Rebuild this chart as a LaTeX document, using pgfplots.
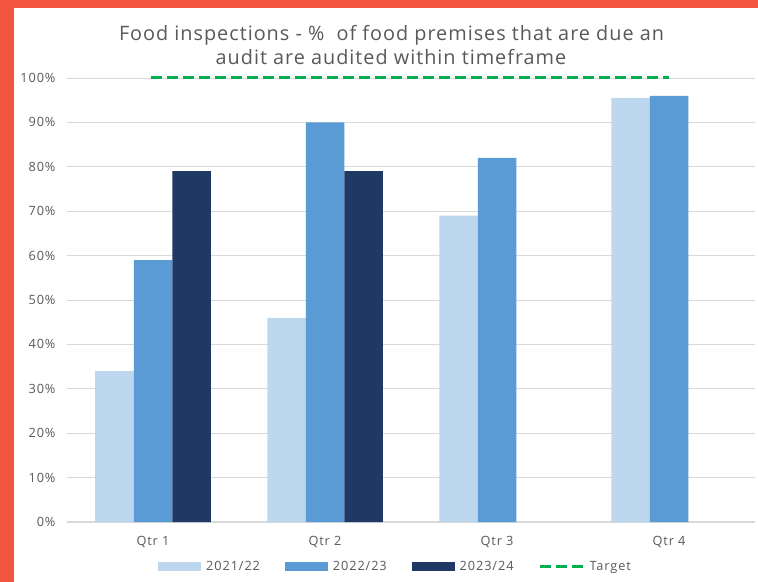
\documentclass[border=0pt]{standalone}
\usepackage{pgfplots}
\pgfplotsset{compat=1.18}
\usepackage{fontspec}
\setmainfont{Open Sans}
\newfontfamily\tickfont[LetterSpace=7]{Open Sans}
\newfontfamily\titlefont[LetterSpace=5]{Open Sans}
\definecolor{cA}{HTML}{BDD7EE}
\definecolor{cB}{HTML}{5B9BD5}
\definecolor{cC}{HTML}{1F3864}
\definecolor{tgt}{HTML}{00B050}
\definecolor{txt}{HTML}{595959}
\definecolor{gridc}{HTML}{D9D9D9}
\definecolor{frame}{HTML}{F25540}
\begin{document}
\begin{tikzpicture}
\useasboundingbox (-67bp,-60bp) rectangle (691bp,522bp);
\fill[white] (-67bp,-60bp) rectangle (691bp,522bp);
\fill[frame] (-67bp,-60bp) rectangle (-53bp,522bp);
\fill[frame] (-67bp,514bp) rectangle (691bp,522bp);
\node[text=txt, font=\titlefont\fontsize{19.9}{23.5}\selectfont, anchor=base] at (324.5bp,481bp)
  {Food inspections - \%\ \ of food premises that are due an};
\node[text=txt, font=\titlefont\fontsize{19.9}{23.5}\selectfont, anchor=base] at (324bp,457bp)
  {audit are audited within timeframe};
\begin{axis}[
  at={(0bp,0bp)}, anchor=south west,
  scale only axis, width=688bp, height=444bp,
  xmin=-0.5, xmax=3.5, ymin=0, ymax=100,
  xtick={0,1,2,3}, xticklabels={Qtr 1,Qtr 2,Qtr 3,Qtr 4},
  ytick={0,10,...,100},
  yticklabel={\pgfmathprintnumber{\tick}\%},
  /pgf/number format/assume math mode=true,
  ymajorgrids, grid style={draw=gridc, line width=0.9bp},
  major tick length=0pt,
  axis lines=left,
  y axis line style={draw=none},
  x axis line style={draw=gridc, line width=1.5bp, -},
  tick label style={text=txt, font=\tickfont\fontsize{12.8}{14}\selectfont},
  yticklabel style={xshift=-8bp},
  xticklabel style={yshift=-11bp},
  legend style={at={(0.4775,-0.1)}, anchor=center, draw=none, fill=none,
    legend columns=4, font=\tickfont\fontsize{12.8}{14}\selectfont, text=txt,
    /tikz/every even column/.append style={column sep=23bp}},
  clip=false,
]
\addplot[ybar, bar width=38.5bp, bar shift=-38.5bp, fill=cA, draw=none,
  legend image code/.code={\fill[cA] (0bp,-4.5bp) rectangle (43bp,4.5bp); \path (46bp,0bp);}]
  coordinates {(0,34) (1,46) (2,69) (3,95.5)};
\addlegendentry{2021/22}
\addplot[ybar, bar width=38.5bp, bar shift=0bp, fill=cB, draw=none,
  legend image code/.code={\fill[cB] (0bp,-4.5bp) rectangle (43bp,4.5bp); \path (46bp,0bp);}]
  coordinates {(0,59) (1,90) (2,82) (3,96)};
\addlegendentry{2022/23}
\addplot[ybar, bar width=38.5bp, bar shift=38.5bp, fill=cC, draw=none,
  legend image code/.code={\fill[cC] (0bp,-4.5bp) rectangle (43bp,4.5bp); \path (46bp,0bp);}]
  coordinates {(0,79) (1,79)};
\addlegendentry{2023/24}
\addplot[sharp plot, draw=tgt, line width=3bp, dash pattern=on 11bp off 5bp,
  legend image code/.code={\draw[tgt, line width=3bp, dash pattern=on 11bp off 5bp] (0bp,0bp) -- (43bp,0bp); \path (46bp,0bp);}]
  coordinates {(-0.01,100) (3.0,100)};
\addlegendentry{Target}
\end{axis}
\end{tikzpicture}
\end{document}
